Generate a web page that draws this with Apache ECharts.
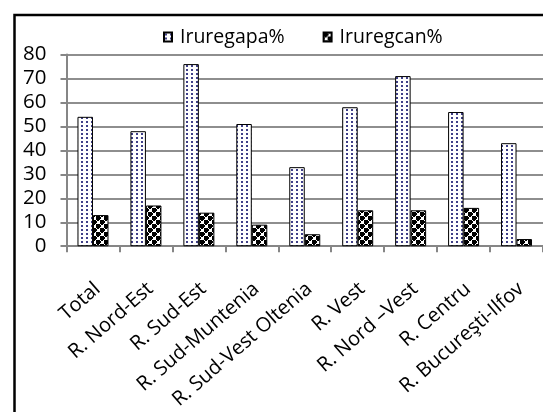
<!DOCTYPE html>
<html>
<head>
<meta charset="utf-8">
<script src="https://cdn.jsdelivr.net/npm/echarts@6/dist/echarts.min.js"></script>
<style>
  html, body { margin: 0; padding: 0; background: #fff; }
  #chart { width: 543px; height: 412px; }
</style>
</head>
<body>
<div id="chart"></div>
<script>
// Regions and the two indicators (percent)
const categories = ['Total', 'R. Nord-Est', 'R. Sud-Est', 'R. Sud-Muntenia', 'R. Sud-Vest Oltenia',
  'R. Vest', 'R. Nord \u2013Vest', 'R. Centru', 'R. Bucure\u015fti-Ilfov'];
const seriesNames = ['Iruregapa%', 'Iruregcan%'];
const iruregapa = [54, 48, 76, 51, 33, 58, 71, 56, 43];
const iruregcan = [13, 17, 14, 9, 5, 15, 15, 16, 3];
const yTicks = [0, 10, 20, 30, 40, 50, 60, 70, 80];

const FONT = '"Open Sans", "Noto Sans", sans-serif';

// Fill pattern tiles drawn on small canvases
function dotTile() {
  const c = document.createElement('canvas');
  c.width = 5; c.height = 4;
  const g = c.getContext('2d');
  g.fillStyle = '#ffffff'; g.fillRect(0, 0, 5, 4);
  g.fillStyle = '#3f3f88'; g.fillRect(1, 1, 2, 2);
  return c;
}
function checkerTile() {
  const c = document.createElement('canvas');
  c.width = 8; c.height = 8;
  const g = c.getContext('2d');
  g.fillStyle = '#ffffff'; g.fillRect(0, 0, 8, 8);
  g.fillStyle = '#000000';
  g.fillRect(0, 0, 4, 4); g.fillRect(4, 4, 4, 4);
  g.fillRect(3, 1, 2, 2); g.fillRect(7, 5, 1, 2); g.fillRect(0, 5, 1, 2);
  g.fillRect(1, 3, 2, 2); g.fillRect(5, 7, 2, 1); g.fillRect(5, 0, 2, 1);
  return c;
}

const chart = echarts.init(document.getElementById('chart'), null, { renderer: 'canvas' });
chart.setOption({
  animation: false,
  backgroundColor: '#ffffff',
  textStyle: { fontFamily: FONT },
  graphic: [{
    type: 'rect',
    shape: { x: 14.5, y: 15, width: 620, height: 520 },
    style: { fill: 'none', stroke: '#000000', lineWidth: 2.5 },
    z: 100
  }],
  legend: {
    top: 22,
    left: 158,
    itemWidth: 8,
    itemHeight: 9,
    itemGap: 38,
    icon: 'rect',
    textStyle: { fontFamily: FONT, fontSize: 19.5, color: '#000', padding: [0, 0, 0, 3] },
    data: seriesNames
  },
  grid: { left: 66.5, right: 0, top: 54.5, bottom: 162, containLabel: false },
  xAxis: {
    type: 'category',
    data: categories,
    axisLine: { lineStyle: { color: '#868686', width: 2 } },
    axisTick: { show: true, length: 6, lineStyle: { color: '#868686', width: 2 } },
    axisLabel: {
      rotate: 41, interval: 0, margin: 44, padding: [0, -6, 0, 0],
      fontFamily: FONT, fontSize: 20, color: '#000'
    }
  },
  yAxis: {
    type: 'value',
    min: yTicks[0], max: yTicks[yTicks.length - 1], interval: 10,
    axisLine: { show: true, lineStyle: { color: '#868686', width: 2 } },
    axisTick: { show: true, length: 6, lineStyle: { color: '#868686', width: 2 } },
    splitLine: { lineStyle: { color: '#8e8e8e', width: 2 } },
    axisLabel: { margin: 20, fontFamily: FONT, fontSize: 20.5, color: '#000' }
  },
  series: [{
    name: seriesNames[0],
    type: 'bar',
    data: iruregapa,
    barWidth: 15.5,
    barGap: '0%',
    itemStyle: { color: { image: dotTile(), repeat: 'repeat' }, borderColor: '#000', borderWidth: 1 }
  }, {
    name: seriesNames[1],
    type: 'bar',
    data: iruregcan,
    barWidth: 15.5,
    barGap: '0%',
    itemStyle: { color: { image: checkerTile(), repeat: 'repeat' }, borderColor: '#000', borderWidth: 1 }
  }]
});
</script>
</body>
</html>
